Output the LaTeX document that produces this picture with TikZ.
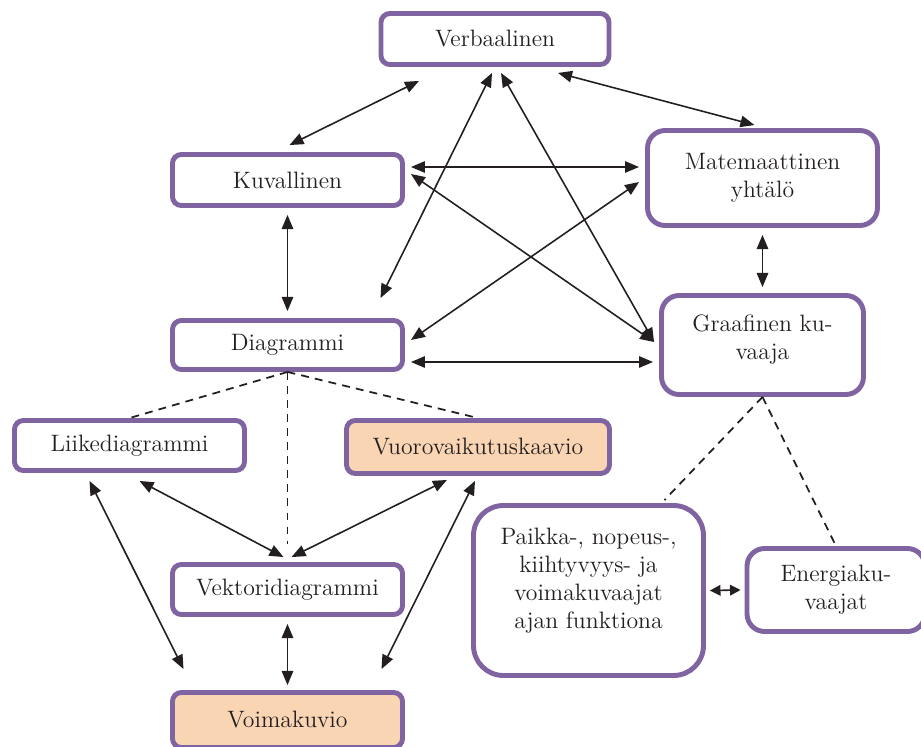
\documentclass[tikz,border=0pt]{standalone}
\usepackage{fontspec}
\usetikzlibrary{arrows.meta,calc}

\definecolor{boxline}{HTML}{8064A2}
\definecolor{peach}{HTML}{FAD5B4}
\definecolor{ink}{HTML}{231F20}

\tikzset{
  box/.style={draw=boxline, line width=2.8pt, rounded corners=5pt, fill=white,
    align=center, inner sep=0pt, text=ink,
    font=\fontsize{13.5}{16}\selectfont},
  boxhl/.style={box, fill=peach},
  link/.style={draw=ink, line width=0.9pt,
    {Triangle[length=8pt,width=6.5pt]}-{Triangle[length=8pt,width=6.5pt]}},
  shortlink/.style={draw=ink, line width=0.9pt,
    {Triangle[length=6pt,width=6pt]}-{Triangle[length=6pt,width=6pt]}},
  sublink/.style={draw=ink, line width=1pt, dash pattern=on 4.5pt off 3.5pt},
}

\begin{document}
\begin{tikzpicture}[x=0.02cm, y=-0.02cm]
  \useasboundingbox (0,0) rectangle (921,747);

  % representation boxes
  \node[box, minimum width=4.56cm, minimum height=1.02cm] (verb) at (495,39) {Verbaalinen};
  \node[box, minimum width=4.6cm, minimum height=1.02cm] (kuv) at (287.5,180) {Kuvallinen};
  \node[box, rounded corners=10pt, minimum width=4.6cm, minimum height=1.9cm] (mat) at (762.5,178) {Matemaattinen\\yhtälö};
  \node[box, rounded corners=10pt, minimum width=4.04cm, minimum height=1.98cm, text depth=0.3cm] (graaf) at (762.5,345) {Graafinen ku-\\vaaja};
  \node[box, minimum width=4.6cm, minimum height=0.98cm] (diag) at (287.5,345) {Diagrammi};
  \node[box, minimum width=4.6cm, minimum height=1.0cm] (liike) at (129.5,445.5) {Liikediagrammi};
  \node[boxhl, minimum width=5.26cm, minimum height=1.06cm] (vuoro) at (478,447) {Vuorovaikutuskaavio};
  \node[box, minimum width=4.6cm, minimum height=1.0cm] (vekt) at (287.5,589.5) {Vektoridiagrammi};
  \node[boxhl, minimum width=4.6cm, minimum height=1.1cm] (voima) at (287.5,720) {Voimakuvio};
  \node[box, rounded corners=17pt, minimum width=4.6cm, minimum height=3.4cm, text depth=0.5cm] (paikka) at (588.5,590.5)
    {Paikka-, nopeus-,\\kiihtyvyys- ja\\voimakuvaajat\\ajan funktiona};
  \node[box, rounded corners=10pt, minimum width=3.56cm, minimum height=1.66cm] (energ) at (836,590) {Energiaku-\\vaajat};

  % two-way links between representations
  \draw[link] ($(verb.south)+(-76,14)$) -- ($(kuv.north)+(2,-7)$);
  \draw[link] ($(verb.south)+(63,6)$) -- ($(mat.north)+(-8,-3)$);
  \draw[link] ($(verb.south)+(-3,6)$) -- ($(diag.north)+(93,-20)$);
  \draw[link] ($(verb.south)+(6,6)$) -- ($(graaf.west)+(-5,-3)$);
  \draw[link] ($(kuv.east)+(6,-13)$) -- ($(mat.west)+(-6,-11)$);
  \draw[link] ($(kuv.east)+(6,-6)$) -- ($(graaf.west)+(-5,-3)$);
  \draw[link] ($(mat.west)+(-6,4)$) -- ($(diag.east)+(6,-5)$);
  \draw[link] ($(kuv.south)+(0,7)$) -- ($(diag.north)+(0,-7)$);
  \draw[link] ($(mat.south)+(0,7)$) -- ($(graaf.north)+(0,-6)$);
  \draw[link] ($(diag.east)+(6,17)$) -- ($(graaf.west)+(-6,17)$);

  % sub-types (dashed)
  \draw[sublink] (diag.south) -- (liike.north);
  \draw[sublink] (diag.south) -- (vuoro.north);
  \draw[sublink] (diag.south) -- ($(vekt.north)+(0,-18)$);
  \draw[sublink] (graaf.south) -- ($(paikka.north)+(76,-3)$);
  \draw[sublink] (graaf.south) -- (energ.north);

  % links among the diagram types
  \draw[link] ($(liike.south)+(-40,8)$) -- ($(voima.north)+(-104,-21)$);
  \draw[link] ($(liike.south)+(10,8)$) -- ($(vekt.north)+(-4,-5)$);
  \draw[link] ($(vuoro.south)+(-31,4)$) -- ($(vekt.north)+(4,-5)$);
  \draw[link] ($(vuoro.south)+(-3,5)$) -- ($(voima.north)+(94,-21)$);
  \draw[link] ($(vekt.south)+(0,7)$) -- ($(voima.north)+(0,-5)$);
  \draw[shortlink] ($(paikka.east)+(4,0)$) -- ($(energ.west)+(-4,0)$);
\end{tikzpicture}
\end{document}
